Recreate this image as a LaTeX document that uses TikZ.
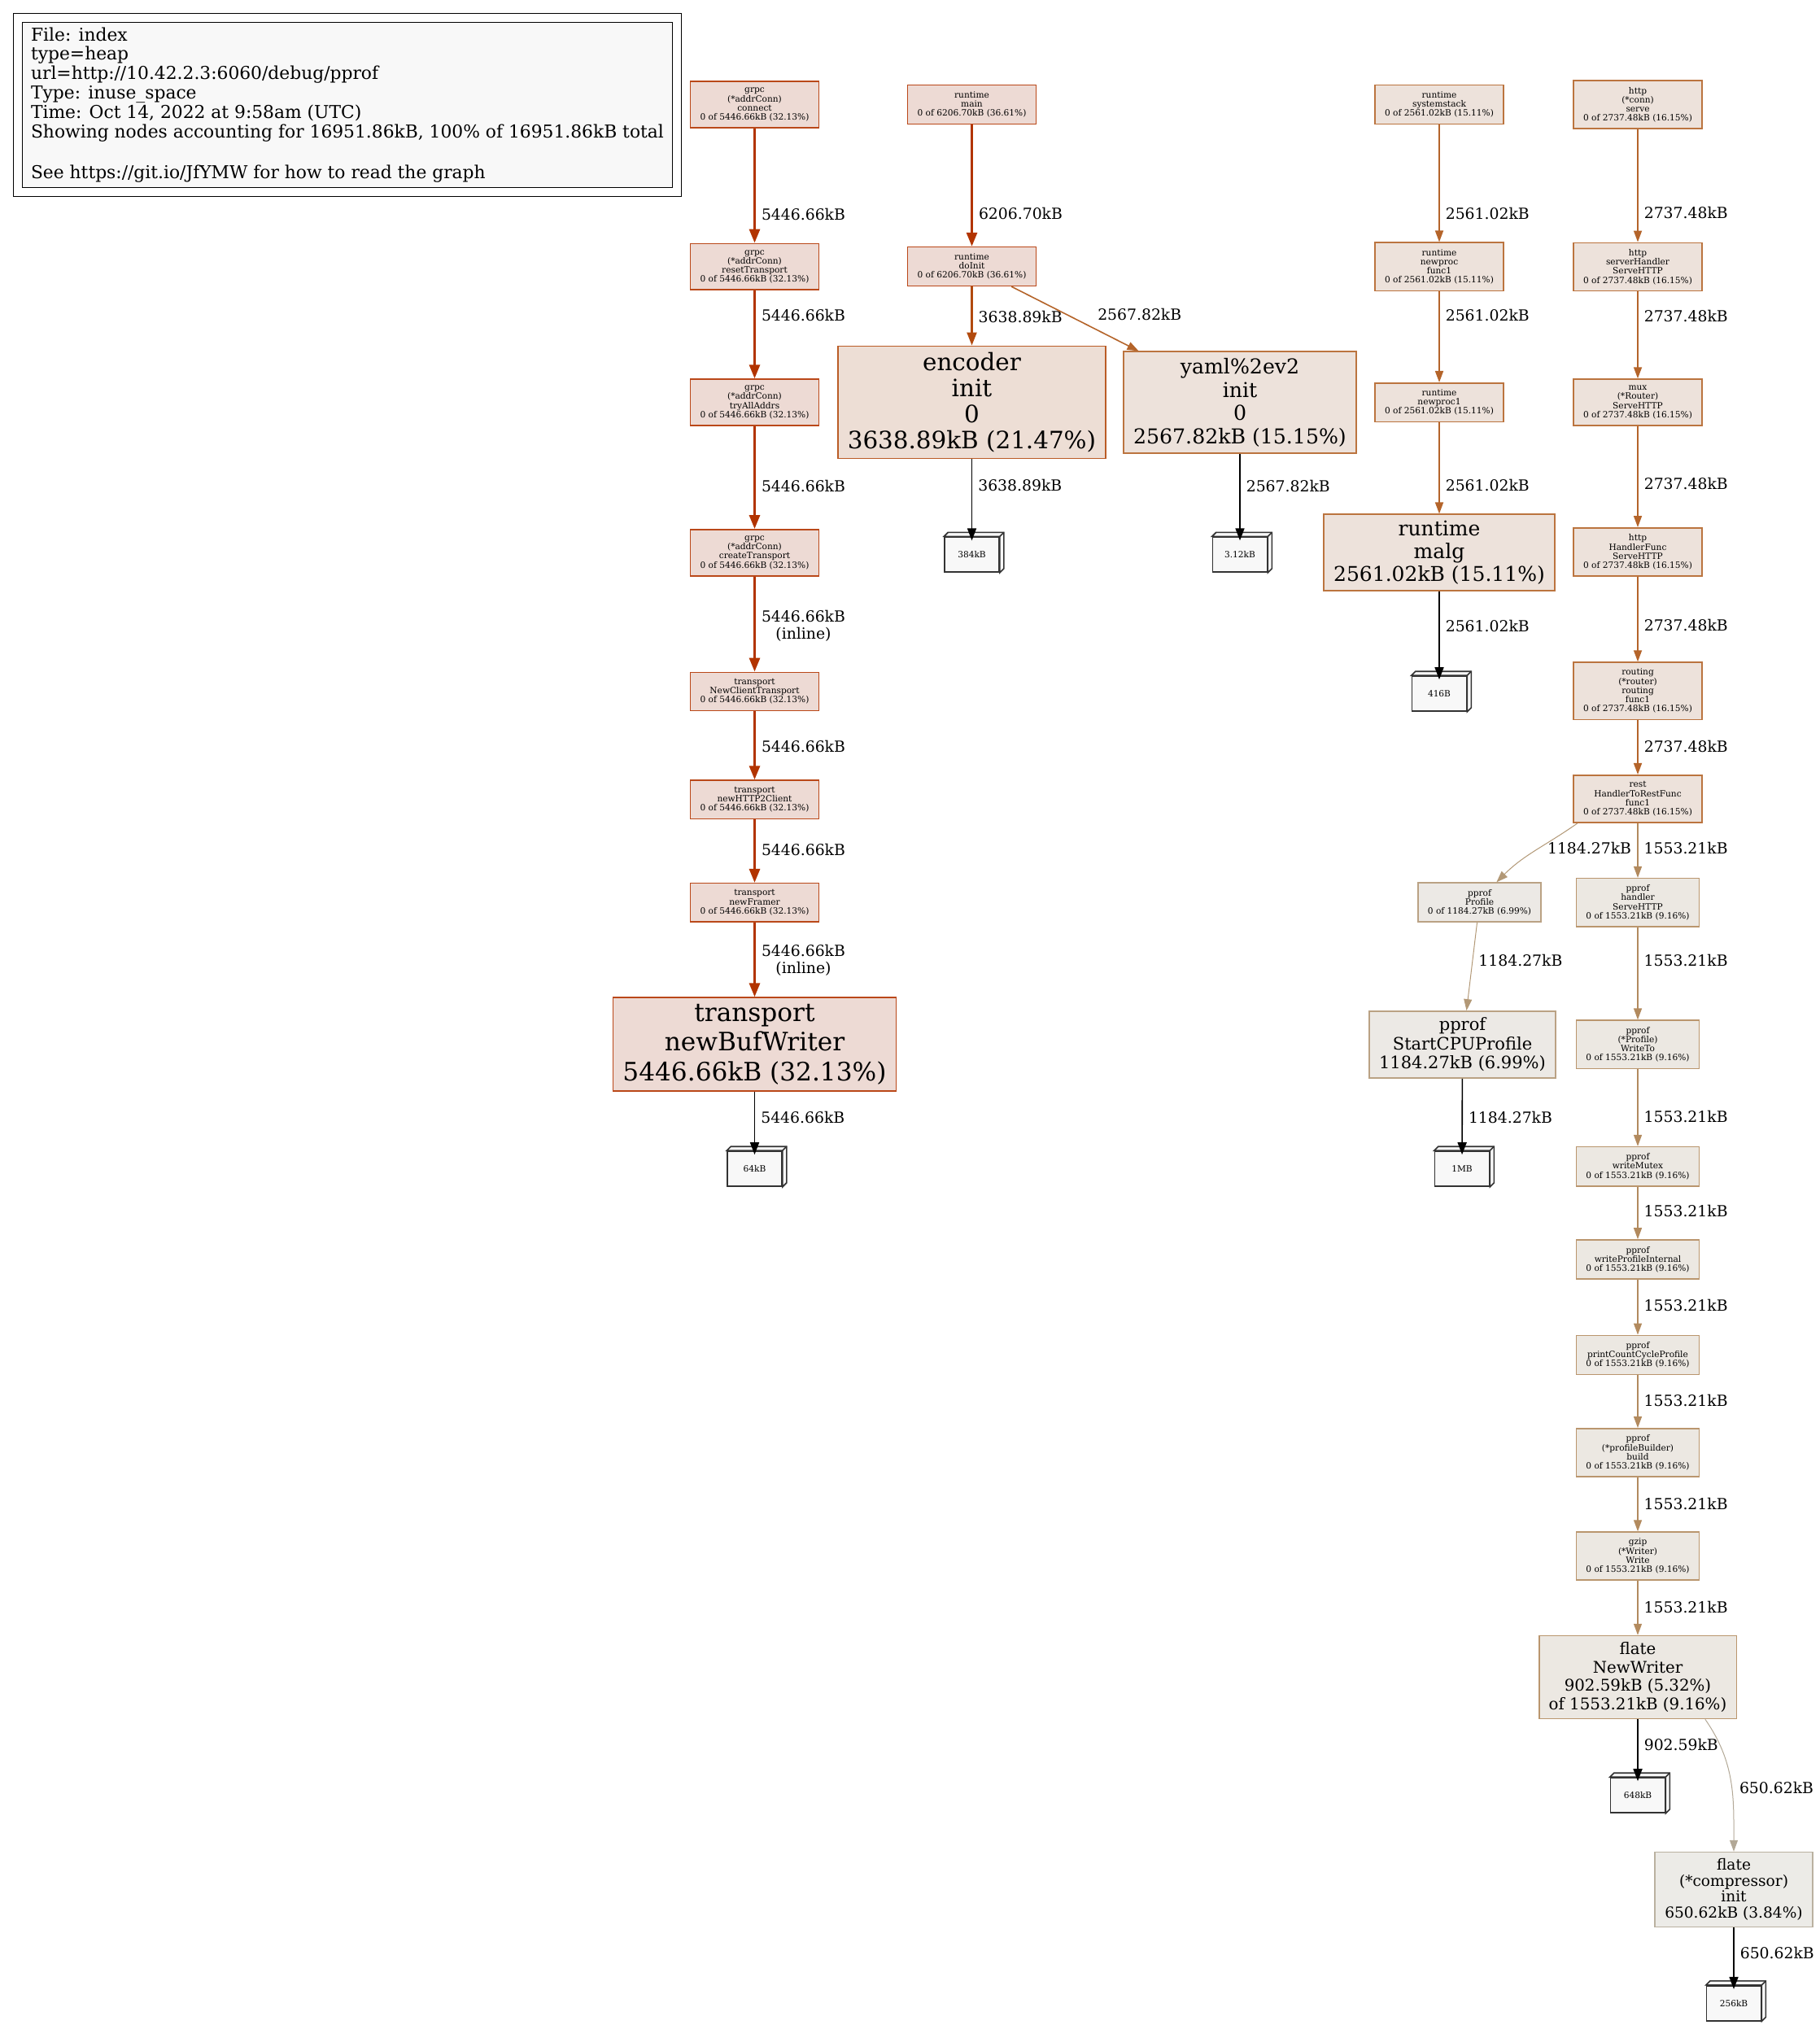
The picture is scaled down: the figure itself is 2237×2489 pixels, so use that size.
\documentclass[tikz,border=0pt]{standalone}
\usepackage{fontspec}
\setmainfont{DejaVu Serif}
\usetikzlibrary{arrows.meta}
\definecolor{hot}{RGB}{178,52,0}
\definecolor{hotbg}{RGB}{237,218,212}
\definecolor{rust}{RGB}{178,74,14}
\definecolor{rustbg}{RGB}{237,222,213}
\definecolor{amber}{RGB}{180,100,42}
\definecolor{amberbg}{RGB}{237,226,219}
\definecolor{tanc}{RGB}{178,138,94}
\definecolor{tancbg}{RGB}{236,232,226}
\definecolor{sand}{RGB}{178,152,118}
\definecolor{sandbg}{RGB}{236,233,229}
\definecolor{greyc}{RGB}{178,168,150}
\definecolor{greycbg}{RGB}{236,235,231}
\definecolor{leafbg}{RGB}{248,248,248}
\tikzset{
  fbox/.style={rectangle,draw=#1!90,fill=#1bg,line width=0.8pt,align=center,
               inner xsep=6pt,inner ysep=4pt,font=\fontsize{5.3}{5.6}\selectfont},
  leaf/.style={rectangle,draw=black!80,fill=leafbg,line width=0.8pt,
               minimum width=33.5pt,minimum height=21.5pt,inner sep=0pt,
               font=\fontsize{5.3}{5.6}\selectfont},
  leafside/.style={draw=black!80,fill=leafbg,line width=0.8pt},
  lbl/.style={right,inner xsep=3.5pt,inner ysep=0pt,align=center,
              font=\fontsize{9.4}{10.3}\selectfont},
  redarrow/.style={draw=hot,line width=1.5pt,-{Triangle[length=8.5pt,width=6.5pt]}},
  rustarrow/.style={draw=rust,line width=1.2pt,-{Triangle[length=8pt,width=6pt]}},
  amberarrow/.style={draw=amber,line width=0.8pt,-{Triangle[length=7pt,width=5pt]}},
  tanarrow/.style={draw=tanc,line width=0.65pt,-{Triangle[length=7pt,width=5pt]}},
  sandarrow/.style={draw=sand,line width=0.5pt,-{Triangle[length=7pt,width=5pt]}},
  greyarrow/.style={draw=greyc,line width=0.5pt,-{Triangle[length=7pt,width=5pt]}},
  leafarrow/.style={draw=black,line width=0.8pt,-{Triangle[length=7.5pt,width=5.5pt]},
                    shorten >=-2.5pt},
  legend/.style={rectangle,draw,double,double distance=4.9pt,line width=0.6pt,
                 fill=leafbg,anchor=north west,minimum width=404.9pt,
                 minimum height=107pt,align=left,
                 font=\fontsize{10.9}{11.9}\selectfont},
}

\begin{document}
\begin{tikzpicture}[x=0.5pt,y=-0.5pt]
  \useasboundingbox (0,0) rectangle (2237,2489);

  % legend
  \node[legend] (info) at (21.5,21.5)
    {File: index\\type=heap\\url=http://10.42.2.3:6060/debug/pprof\\Type: inuse\_space\\
     Time: Oct 14, 2022 at 9:58am (UTC)\\
     Showing nodes accounting for 16951.86kB, 100\% of 16951.86kB total\\[13.5pt]
     See https://git.io/JfYMW for how to read the graph};

  % grpc / transport chain
  \node[fbox=hot] (connect) at (927.5,128.7) {grpc\\(*addrConn)\\connect\\0 of 5446.66kB (32.13\%)};
  \node[fbox=hot] (reset) at (927.5,327.8) {grpc\\(*addrConn)\\resetTransport\\0 of 5446.66kB (32.13\%)};
  \node[fbox=hot] (tryall) at (927.5,494.5) {grpc\\(*addrConn)\\tryAllAddrs\\0 of 5446.66kB (32.13\%)};
  \node[fbox=hot] (create) at (927.5,679.3) {grpc\\(*addrConn)\\createTransport\\0 of 5446.66kB (32.13\%)};
  \node[fbox=hot] (newclient) at (927.5,850) {transport\\NewClientTransport\\0 of 5446.66kB (32.13\%)};
  \node[fbox=hot] (http2client) at (927.5,982.7) {transport\\newHTTP2Client\\0 of 5446.66kB (32.13\%)};
  \node[fbox=hot] (framer) at (927.5,1109.3) {transport\\newFramer\\0 of 5446.66kB (32.13\%)};
  \node[fbox=hot,font=\fontsize{15.6}{18.25}\selectfont] (bufwriter) at (927.5,1283.7)
    {transport\\newBufWriter\\5446.66kB (32.13\%)};
  \node[leaf] (c64) at (927.5,1436.5) {64kB};

  % runtime main
  \node[fbox=hot] (rtmain) at (1194.5,128.5) {runtime\\main\\0 of 6206.70kB (36.61\%)};
  \node[fbox=hot] (doinit) at (1194.5,327.5) {runtime\\doInit\\0 of 6206.70kB (36.61\%)};
  \node[fbox=rust,font=\fontsize{14.7}{15.9}\selectfont] (encinit) at (1194.5,494.5)
    {encoder\\init\\0\\3638.89kB (21.47\%)};
  \node[fbox=amber,font=\fontsize{12.6}{14.3}\selectfont] (yamlinit) at (1524,494.7)
    {yaml\%2ev2\\init\\0\\2567.82kB (15.15\%)};
  \node[leaf] (c384) at (1194.5,681.7) {384kB};
  \node[leaf] (c312) at (1524,681.7) {3.12kB};

  % runtime systemstack
  \node[fbox=amber] (sysstack) at (1769,128.6) {runtime\\systemstack\\0 of 2561.02kB (15.11\%)};
  \node[fbox=amber] (newprocf) at (1769,327.8) {runtime\\newproc\\func1\\0 of 2561.02kB (15.11\%)};
  \node[fbox=amber] (newproc1) at (1769,494.7) {runtime\\newproc1\\0 of 2561.02kB (15.11\%)};
  \node[fbox=amber,font=\fontsize{12.5}{13.9}\selectfont] (malg) at (1769,679.2)
    {runtime\\malg\\2561.02kB (15.11\%)};
  \node[leaf] (c416) at (1769,852.5) {416B};

  % http serve
  \node[fbox=amber] (serve) at (2013,128.6) {http\\(*conn)\\serve\\0 of 2737.48kB (16.15\%)};
  \node[fbox=amber] (srvhandler) at (2013,328) {http\\serverHandler\\ServeHTTP\\0 of 2737.48kB (16.15\%)};
  \node[fbox=amber] (router) at (2013,494.5) {mux\\(*Router)\\ServeHTTP\\0 of 2737.48kB (16.15\%)};
  \node[fbox=amber] (handlerfunc) at (2013,678.5) {http\\HandlerFunc\\ServeHTTP\\0 of 2737.48kB (16.15\%)};
  \node[fbox=amber] (routing) at (2013,849.2) {routing\\(*router)\\routing\\func1\\0 of 2737.48kB (16.15\%)};
  \node[fbox=amber] (restfunc) at (2013,982) {rest\\HandlerToRestFunc\\func1\\0 of 2737.48kB (16.15\%)};

  % pprof
  \node[fbox=sand] (profile) at (1818.5,1109.2) {pprof\\Profile\\0 of 1184.27kB (6.99\%)};
  \node[fbox=sand,font=\fontsize{10.5}{11.75}\selectfont] (startcpu) at (1797.5,1284)
    {pprof\\StartCPUProfile\\1184.27kB (6.99\%)};
  \node[leaf] (c1mb) at (1797,1436.5) {1MB};
  \node[fbox=tanc] (pphandler) at (2013,1109.3) {pprof\\handler\\ServeHTTP\\0 of 1553.21kB (9.16\%)};
  \node[fbox=tanc] (writeto) at (2013,1283.8) {pprof\\(*Profile)\\WriteTo\\0 of 1553.21kB (9.16\%)};
  \node[fbox=tanc] (wmutex) at (2013,1433.7) {pprof\\writeMutex\\0 of 1553.21kB (9.16\%)};
  \node[fbox=tanc] (wprofint) at (2013,1548) {pprof\\writeProfileInternal\\0 of 1553.21kB (9.16\%)};
  \node[fbox=tanc] (printccp) at (2013,1665.4) {pprof\\printCountCycleProfile\\0 of 1553.21kB (9.16\%)};
  \node[fbox=tanc] (pbuild) at (2013,1785.5) {pprof\\(*profileBuilder)\\build\\0 of 1553.21kB (9.16\%)};
  \node[fbox=tanc] (gzwrite) at (2013,1912.6) {gzip\\(*Writer)\\Write\\0 of 1553.21kB (9.16\%)};
  \node[fbox=tanc,font=\fontsize{9.9}{11.3}\selectfont] (newwriter) at (2013,2061.5)
    {flate\\NewWriter\\902.59kB (5.32\%)\\of 1553.21kB (9.16\%)};
  \node[leaf] (c648) at (2013,2206.5) {648kB};
  \node[fbox=greyc,font=\fontsize{9.3}{9.8}\selectfont] (compinit) at (2131,2322.5)
    {flate\\(*compressor)\\init\\650.62kB (3.84\%)};
  \node[leaf] (c256) at (2131,2462.2) {256kB};

  % box3d faces
  \foreach \c in {c64,c384,c312,c416,c1mb,c648,c256}{
    \filldraw[leafside] (\c.north west) -- ++(2.5pt,2.5pt)
      -- ([shift={(2.5pt,2.5pt)}]\c.north east) -- ([shift={(2.5pt,2.5pt)}]\c.south east)
      -- (\c.south east) -- (\c.north east) -- cycle;
    \draw[leafside] (\c.north east) -- ++(2.5pt,2.5pt);
  }

  % edges
  \draw[redarrow] (connect) -- node[lbl,pos=0.75] {5446.66kB} (reset);
  \draw[redarrow] (reset) -- node[lbl,pos=0.28] {5446.66kB} (tryall);
  \draw[redarrow] (tryall) -- node[lbl,pos=0.58] {5446.66kB} (create);
  \draw[redarrow] (create) -- node[lbl,pos=0.52] {5446.66kB\\(inline)} (newclient);
  \draw[redarrow] (newclient) -- node[lbl,pos=0.51] {5446.66kB} (http2client);
  \draw[redarrow] (http2client) -- node[lbl,pos=0.48] {5446.66kB} (framer);
  \draw[redarrow] (framer) -- node[lbl,pos=0.51] {5446.66kB\\(inline)} (bufwriter);
  \draw[leafarrow] (bufwriter) -- node[lbl,pos=0.43] {5446.66kB} (c64);

  \draw[redarrow] (rtmain) -- node[lbl,pos=0.73] {6206.70kB} (doinit);
  \draw[rustarrow] (doinit) -- node[lbl,pos=0.52] {3638.89kB} (encinit);
  \draw[amberarrow] (doinit) -- node[lbl,pos=0.43,xshift=15.5pt] {2567.82kB} (yamlinit);
  \draw[leafarrow] (encinit) -- node[lbl,pos=0.34] {3638.89kB} (c384);
  \draw[leafarrow] (yamlinit) -- node[lbl,pos=0.39] {2567.82kB} (c312);

  \draw[amberarrow] (sysstack) -- node[lbl,pos=0.76] {2561.02kB} (newprocf);
  \draw[amberarrow] (newprocf) -- node[lbl,pos=0.26] {2561.02kB} (newproc1);
  \draw[amberarrow] (newproc1) -- node[lbl,pos=0.69] {2561.02kB} (malg);
  \draw[leafarrow] (malg) -- node[lbl,pos=0.41] {2561.02kB} (c416);

  \draw[amberarrow] (serve) -- node[lbl,pos=0.74] {2737.48kB} (srvhandler);
  \draw[amberarrow] (srvhandler) -- node[lbl,pos=0.28] {2737.48kB} (router);
  \draw[amberarrow] (router) -- node[lbl,pos=0.57] {2737.48kB} (handlerfunc);
  \draw[amberarrow] (handlerfunc) -- node[lbl,pos=0.57] {2737.48kB} (routing);
  \draw[amberarrow] (routing) -- node[lbl,pos=0.49] {2737.48kB} (restfunc);
  \draw[tanarrow] (restfunc) -- node[lbl,pos=0.46] {1553.21kB} (pphandler);
  \draw[sandarrow] (restfunc.-158) to[out=215,in=45] node[lbl,pos=0.42,yshift=-1pt] {1184.27kB} (profile.50);

  \draw[sandarrow] (profile) -- node[lbl,pos=0.43] {1184.27kB} (startcpu);
  \draw[leafarrow] (startcpu) -- node[lbl,pos=0.54] {1184.27kB} (c1mb);
  \draw[tanarrow] (pphandler) -- node[lbl,pos=0.36] {1553.21kB} (writeto);
  \draw[tanarrow] (writeto) -- node[lbl,pos=0.62] {1553.21kB} (wmutex);
  \draw[tanarrow] (wmutex) -- node[lbl,pos=0.47] {1553.21kB} (wprofint);
  \draw[tanarrow] (wprofint) -- node[lbl,pos=0.47] {1553.21kB} (printccp);
  \draw[tanarrow] (printccp) -- node[lbl,pos=0.48] {1553.21kB} (pbuild);
  \draw[tanarrow] (pbuild) -- node[lbl,pos=0.49] {1553.21kB} (gzwrite);
  \draw[tanarrow] (gzwrite) -- node[lbl,pos=0.48] {1553.21kB} (newwriter);
  \draw[leafarrow] (newwriter) -- node[lbl,pos=0.44] {902.59kB} (c648);
  \draw[greyarrow] (newwriter.-32) to[out=-55,in=90] node[lbl,pos=0.55,xshift=1pt] {650.62kB} (compinit.north);
  \draw[leafarrow] (compinit) -- node[lbl,pos=0.44] {650.62kB} (c256);
\end{tikzpicture}
\end{document}
